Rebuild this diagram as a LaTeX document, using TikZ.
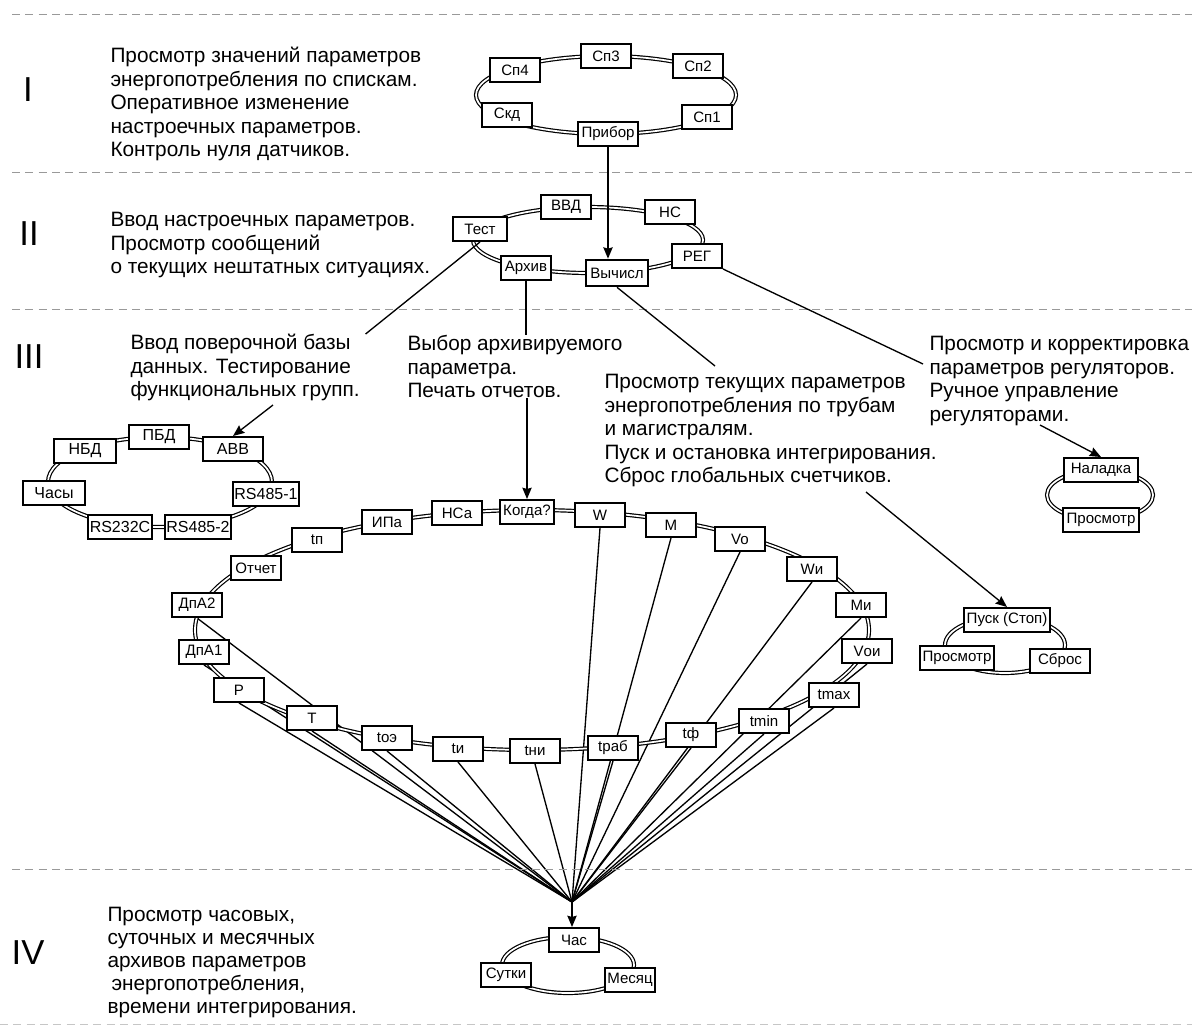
\documentclass[tikz,border=0pt]{standalone}
\usepackage{fontspec}
\setmainfont{Liberation Sans}
\usetikzlibrary{arrows.meta,backgrounds}
\tikzset{every picture/.style={line width=0.75pt}}

\begin{document}
\begin{tikzpicture}[x=0.75pt,y=0.75pt,yscale=-1,xscale=1,
	blok/.style={draw,fill=white,line width=1.5pt,minimum width=37.5pt,minimum height=18pt,inner sep=1pt,font=\fontsize{11.3}{12}\selectfont},
	blokL/.style={blok,minimum width=47pt,font=\fontsize{12}{13}\selectfont},
	kolco/.style={double,double distance=1.3pt,line width=0.9pt},
	svyaz/.style={line width=1pt},
	strelka/.style={svyaz,-{Stealth[length=8.5pt,width=7pt,inset=1pt]}},
	opis/.style={anchor=north west,inner sep=0pt,align=left,font=\fontsize{15.6}{17.6}\selectfont},
	rim/.style={inner sep=0pt,font=\fontsize{26}{30}\selectfont},
	razdel/.style={draw=gray!80,line width=0.6pt,dash pattern=on 6pt off 4pt}]
	\useasboundingbox (0,0) rectangle (1192,1028);

	%Straight Lines: level borders
	\draw [razdel] (12,14) -- (1192,14) ;
	\draw [razdel] (12,172) -- (1192,172) ;
	\draw [razdel] (12,309) -- (1192,309) ;
	\draw [razdel] (12,869) -- (1192,869) ;
	\draw [razdel,draw=gray!45] (0,1024) -- (1192,1024) ;

	%Text: level numbers
	\node [rim] (numI) at (28,90) {I};
	\node [rim] (numII) at (29,234) {II};
	\node [rim] (numIII) at (29,357) {III};
	\node [rim] (numIV) at (28,953) {IV};

	%Text: level descriptions
	\node [opis] (txtI) at (110,47) {Просмотр значений параметров\\энергопотребления по спискам.\\Оперативное изменение\\настроечных параметров.\\Контроль нуля датчиков.};
	\node [opis] (txtII) at (110,212) {Ввод настроечных параметров.\\Просмотр сообщений\\о текущих нештатных ситуациях.};
	\node [opis] (txtBaza) at (130,334) {Ввод поверочной базы\\данных. Тестирование\\функциональных групп.};
	\node [opis] (txtArhiv) at (407,335) {Выбор архивируемого\\параметра.\\Печать отчетов.};
	\node [opis] (txtTek) at (604,374) {Просмотр текущих параметров\\энергопотребления по трубам\\и магистралям.\\Пуск и остановка интегрирования.\\Сброс глобальных счетчиков.};
	\node [opis] (txtReg) at (929,336) {Просмотр и корректировка\\параметров регуляторов.\\Ручное управление\\регуляторами.};
	\node [opis,font=\fontsize{15.6}{17.1}\selectfont] (txtIV) at (107,907) {Просмотр часовых,\\суточных и месячных\\архивов параметров\\\hspace{3pt}энергопотребления,\\времени интегрирования.};

	%Shape: Ellipse rings
	\draw [kolco] (606,95) ellipse [x radius=130, y radius=39] ;
	\draw [kolco] (588,240) ellipse [x radius=115, y radius=33] ;
	\draw [kolco] (160,482) ellipse [x radius=112, y radius=45] ;
	\draw [kolco] (532,630) ellipse [x radius=337, y radius=120] ;
	\draw [kolco] (1100,495) ellipse [x radius=53, y radius=25] ;
	\draw [kolco] (1005,645) ellipse [x radius=60, y radius=28] ;
	\draw [kolco] (568,965) ellipse [x radius=66, y radius=28] ;

	%Ring I
	\node [blok] (sp3) at (606,56) {Сп3};
	\node [blok] (sp4) at (515,70) {Сп4};
	\node [blok] (sp2) at (698,66) {Сп2};
	\node [blok] (skd) at (507,115) {Скд};
	\node [blok] (sp1) at (707,117) {Сп1};
	\node [blok,minimum width=45pt] (pribor) at (608,134) {Прибор};

	%Ring II
	\node [blok,minimum width=40pt] (test) at (480,229) {Тест};
	\node [blok] (vvd) at (566,207) {ВВД};
	\node [blok] (ns) at (670,212) {НС};
	\node [blok] (reg) at (697,256) {РЕГ};
	\node [blok,minimum width=46.5pt,minimum height=20pt] (vychisl) at (617,273) {Вычисл};
	\node [blok] (arhiv) at (526,268) {Архив};

	%Ring III, left
	\node [blokL] (nbd) at (85,451) {НБД};
	\node [blokL,minimum width=45pt] (pbd) at (159,437) {ПБД};
	\node [blokL,minimum width=45pt] (avv) at (233,449) {АВВ};
	\node [blokL] (chasy) at (54,493) {Часы};
	\node [blokL] (rs4851) at (266,494) {RS485-1};
	\node [blokL] (rs232) at (120,527) {RS232C};
	\node [blokL] (rs4852) at (198,527) {RS485-2};

	%Ring III, right
	\node [blok,minimum width=56pt] (naladka) at (1101,470) {Наладка};
	\node [blok,minimum width=57pt] (prosmR) at (1101,520) {Просмотр};
	\node [blok,minimum width=64.5pt] (pusk) at (1007,620) {Пуск (Стоп)};
	\node [blok,minimum width=56pt] (prosmP) at (957,658) {Просмотр};
	\node [blok,minimum width=45pt] (sbros) at (1060,661) {Сброс};

	%Ring III, archive
	\node [blok] (tp) at (317,540) {tп};
	\node [blok] (ipa) at (387,522) {ИПа};
	\node [blok] (nsa) at (457,513) {НСа};
	\node [blok,minimum width=40.5pt] (kogda) at (527,512) {Когда?};
	\node [blok] (W) at (600,515) {W};
	\node [blok] (M) at (671,525) {M};
	\node [blok] (Vo) at (740,539) {Vo};
	\node [blok] (Wi) at (812,569) {Wи};
	\node [blok] (Mi) at (861,605) {Mи};
	\node [blok] (Voi) at (867,651) {Vои};
	\node [blok] (tmax) at (834,695) {tmax};
	\node [blok] (tmin) at (764,721) {tmin};
	\node [blok] (tf) at (691,735) {tф};
	\node [blok] (trab) at (613,748) {tраб};
	\node [blok] (tni) at (535,751) {tни};
	\node [blok] (ti) at (458,749) {tи};
	\node [blok] (toe) at (387,738) {tоэ};
	\node [blok] (T) at (312,718) {T};
	\node [blok] (P) at (239,690) {P};
	\node [blok] (dpa1) at (204,652) {ДпА1};
	\node [blok] (dpa2) at (197,605) {ДпА2};
	\node [blok] (otchet) at (256,568) {Отчет};

	%Ring IV
	\node [blok] (chas) at (574,940) {Час};
	\node [blok] (sutki) at (506,975) {Сутки};
	\node [blok] (mesyac) at (630,980) {Месяц};

	%Straight Lines: fan to archive
	\coordinate (fan) at (572,902);
	\begin{scope}[on background layer]
		\foreach \n in {dpa2,dpa1,P,T,toe,ti,tni,trab,tf,tmin,tmax,Voi,Mi,Wi,Vo,M,W}
			\draw [svyaz] (\n.south) -- (fan) ;
	\end{scope}

	%Straight Lines: transitions
	\coordinate (tekTop) at (715,366);
	\coordinate (regEnd) at (923,364);
	\coordinate (bazaOut) at (273,405);
	\coordinate (tekOut) at (866,492);
	\coordinate (regOut) at (1040,425);
	\draw [strelka] (pribor.south) -- (pribor.south |- vychisl.north) ;
	\draw [svyaz] (test.south) -- ([xshift=4]txtBaza.north east) ;
	\draw [svyaz] (arhiv.south) -- (arhiv.south |- txtArhiv.north) ;
	\draw [strelka] (kogda.north |- txtArhiv.south) -- (kogda.north) ;
	\draw [svyaz] (vychisl.south) -- (tekTop) ;
	\draw [svyaz] (reg.south east) -- (regEnd) ;
	\draw [strelka] (bazaOut) -- (avv.north) ;
	\draw [strelka] (tekOut) -- (pusk.north) ;
	\draw [strelka] (regOut) -- (naladka.north) ;
	\draw [strelka] (fan) -- (fan |- chas.north) ;

\end{tikzpicture}
\end{document}
